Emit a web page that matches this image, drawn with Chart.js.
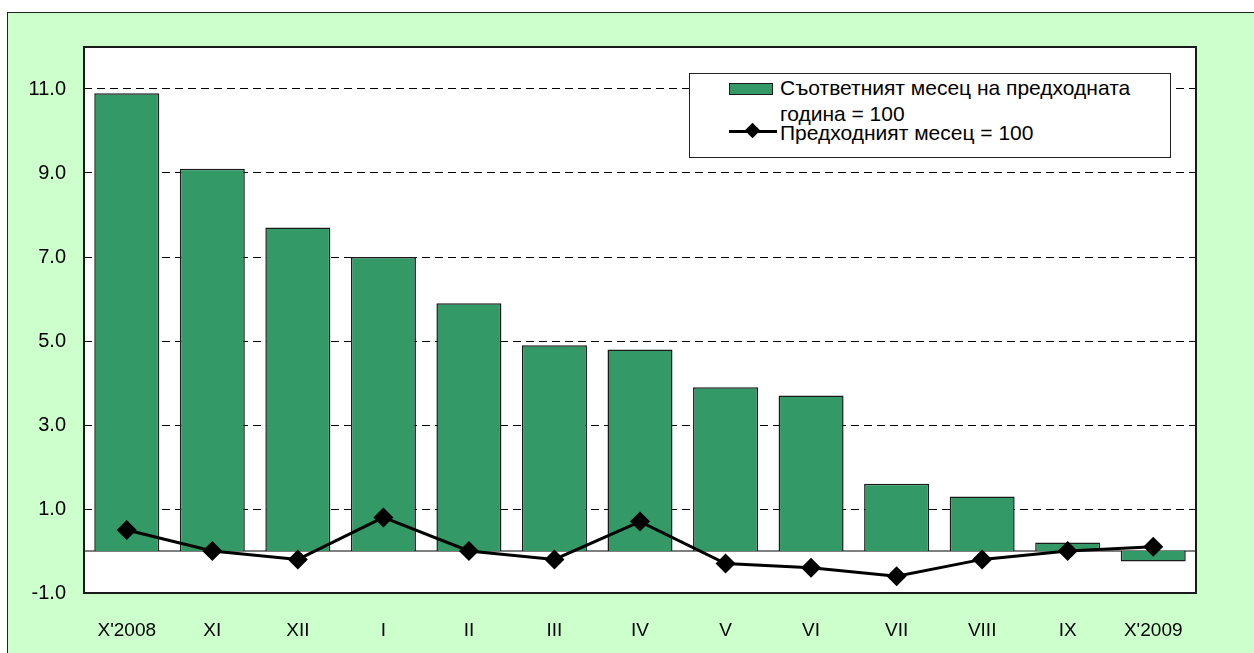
<!DOCTYPE html>
<html>
<head>
<meta charset="utf-8">
<script src="https://cdn.jsdelivr.net/npm/chart.js@4.4.0/dist/chart.umd.min.js"></script>
<style>
  html, body { margin: 0; padding: 0; background: #fff; overflow: hidden; }
  #frame {
    position: absolute; left: 7px; top: 12px; width: 1300px; height: 700px;
    background: #CCFFCC; border: 1px solid #222;
  }
  #myChart { position: absolute; left: 0; top: 0; }
  #legend {
    position: absolute; left: 689px; top: 73px; width: 480px; height: 83px;
    background: #fff; border: 1px solid #222;
    font-family: "Liberation Sans", Arial, sans-serif; font-size: 21px; line-height: 24px; color: #000;
  }
  .row { position: absolute; left: 90px; white-space: nowrap; }
  .swatch {
    position: absolute; left: 39px; top: 9px; width: 42px; height: 10px;
    background: #339966; border: 1px solid #1a1a1a;
  }
  .lineSym { position: absolute; left: 39px; top: 56px; width: 48px; height: 3px; background: #000; }
  .dia {
    position: absolute; left: 18px; top: -5px; width: 11px; height: 11px;
    background: #000; transform: rotate(45deg);
  }
</style>
</head>
<body>
<div id="frame"></div>
<canvas id="myChart" width="1254" height="653"></canvas>
<div id="legend">
  <div class="swatch"></div>
  <div class="row" style="top:2px">Съответният месец на предходната</div>
  <div class="row" style="top:28px">година = 100</div>
  <div class="lineSym"><div class="dia"></div></div>
  <div class="row" style="top:47px">Предходният месец = 100</div>
</div>
<script>
// data
const labels = ["X'2008", "XI", "XII", "I", "II", "III", "IV", "V", "VI", "VII", "VIII", "IX", "X'2009"];
const sameMonthPrevYear = [10.9, 9.1, 7.7, 7.0, 5.9, 4.9, 4.8, 3.9, 3.7, 1.6, 1.3, 0.2, -0.25];
const prevMonth = [0.5, 0.0, -0.2, 0.8, 0.0, -0.2, 0.7, -0.3, -0.4, -0.6, -0.2, 0.0, 0.1];
const yTicks = [-1, 1, 3, 5, 7, 9, 11];

const xFont = { family: "'Liberation Sans', Arial, sans-serif", size: 19 };
const yFont = { family: "'Liberation Sans', Arial, sans-serif", size: 20 };

// white plot area, frame and zero line
const plotFrame = {
  id: "plotFrame",
  beforeDraw(chart) {
    const { ctx, chartArea: a } = chart;
    ctx.save();
    ctx.fillStyle = "#fff";
    ctx.fillRect(a.left, a.top, a.right - a.left, a.bottom - a.top);
    ctx.restore();
  },
  beforeDatasetsDraw(chart) {
    const { ctx, chartArea: a, scales } = chart;
    const y0 = scales.y.getPixelForValue(0);
    ctx.save();
    ctx.strokeStyle = "#000";
    ctx.lineWidth = 1;
    ctx.beginPath();
    ctx.moveTo(a.left, y0);
    ctx.lineTo(a.right, y0);
    ctx.stroke();
    ctx.restore();
  },
  afterDraw(chart) {
    const { ctx, chartArea: a } = chart;
    ctx.save();
    ctx.strokeStyle = "#1a1a1a";
    ctx.lineWidth = 2;
    ctx.strokeRect(a.left, a.top, a.right - a.left, a.bottom - a.top);
    ctx.restore();
  }
};

const config = {
  data: {
    labels,
    datasets: [
      {
        type: "line",
        label: "Предходният месец = 100",
        data: prevMonth,
        borderColor: "#000",
        backgroundColor: "#000",
        borderWidth: 3,
        pointStyle: "rectRot",
        pointRadius: 10,
        pointBorderWidth: 0,
        tension: 0,
        order: 1,
      },
      {
        type: "bar",
        label: "Съответният месец на предходната година = 100",
        data: sameMonthPrevYear,
        backgroundColor: "#339966",
        borderColor: "#1a1a1a",
        borderWidth: 1.5,
        barPercentage: 0.76,
        categoryPercentage: 1.0,
        order: 2,
      },
    ],
  },
  options: {
    responsive: false,
    animation: false,
    devicePixelRatio: 1,
    layout: { padding: { left: 0, top: 47, right: 58, bottom: 0 } },
    plugins: { legend: { display: false }, tooltip: { enabled: false } },
    scales: {
      x: {
        grid: { display: false },
        border: { display: false },
        ticks: { color: "#000", font: xFont, padding: 18, maxRotation: 0 },
        afterFit(scale) { scale.height = 60; },
      },
      y: {
        min: -1,
        max: 12,
        afterBuildTicks(scale) { scale.ticks = yTicks.map(v => ({ value: v })); },
        afterFit(scale) { scale.width = 84; },
        grid: {
          drawTicks: false,
          color: (c) => (c.tick && c.tick.value === -1 ? "rgba(0,0,0,0)" : "#000"),
          lineWidth: 1,
        },
        border: { display: false, dash: [8, 5] },
        ticks: {
          color: "#000",
          font: yFont,
          padding: 18,
          callback: (v) => Number(v).toFixed(1),
        },
      },
    },
  },
  plugins: [plotFrame],
};

const myChart = new Chart(document.getElementById("myChart"), config);
</script>
</body>
</html>
